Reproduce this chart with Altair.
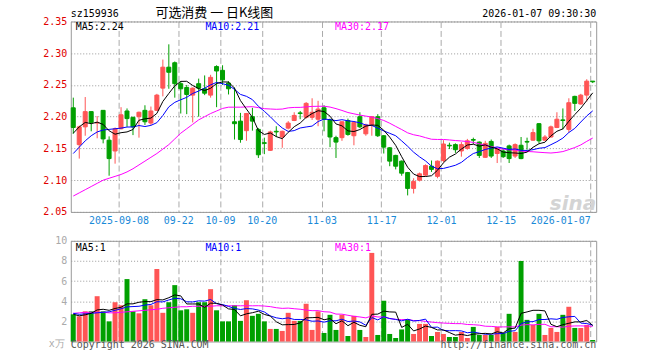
import altair as alt
import pandas as pd

# ---------------- data ----------------
tick_idx = [8, 18, 25, 32, 42, 52, 62, 72, 87]
tick_labels = ["2025-09-08", "09-22", "10-09", "10-20", "11-03", "11-17", "12-01", "12-15", "2026-01-07"]
price_ticks = [2.05, 2.10, 2.15, 2.20, 2.25, 2.30, 2.35]
vol_ticks = [2, 4, 6, 8, 10]

opens = [2.214, 2.156, 2.184, 2.208, 2.190, 2.210, 2.163, 2.146, 2.181, 2.209,
         2.199, 2.200, 2.210, 2.190, 2.210, 2.245, 2.278, 2.285, 2.252, 2.246,
         2.234, 2.252, 2.244, 2.234, 2.279, 2.273, 2.253, 2.192, 2.193, 2.178,
         2.200, 2.180, 2.159, 2.147, 2.177, 2.168, 2.182, 2.194, 2.206, 2.199,
         2.199, 2.196, 2.214, 2.195, 2.167, 2.167, 2.194, 2.170, 2.200, 2.173,
         2.187, 2.200, 2.170, 2.151, 2.139, 2.130, 2.112, 2.087, 2.100, 2.108,
         2.122, 2.106, 2.131, 2.155, 2.156, 2.146, 2.150, 2.164, 2.160, 2.136,
         2.161, 2.142, 2.146, 2.154, 2.138, 2.155, 2.161, 2.163, 2.189, 2.163,
         2.168, 2.183, 2.195, 2.180, 2.232, 2.220, 2.234, 2.256]
highs = [2.230, 2.186, 2.231, 2.208, 2.201, 2.210, 2.169, 2.183, 2.215, 2.213,
         2.200, 2.208, 2.218, 2.216, 2.236, 2.290, 2.314, 2.287, 2.256, 2.250,
         2.246, 2.260, 2.265, 2.266, 2.281, 2.281, 2.256, 2.246, 2.206, 2.206,
         2.214, 2.182, 2.167, 2.178, 2.185, 2.178, 2.193, 2.207, 2.209, 2.223,
         2.229, 2.225, 2.218, 2.197, 2.170, 2.193, 2.197, 2.193, 2.207, 2.189,
         2.201, 2.204, 2.171, 2.152, 2.140, 2.131, 2.113, 2.103, 2.112, 2.125,
         2.131, 2.131, 2.163, 2.159, 2.158, 2.160, 2.165, 2.167, 2.161, 2.162,
         2.164, 2.150, 2.150, 2.156, 2.158, 2.168, 2.167, 2.181, 2.190, 2.171,
         2.186, 2.207, 2.213, 2.229, 2.233, 2.236, 2.259, 2.256]
lows = [2.173, 2.134, 2.170, 2.177, 2.166, 2.158, 2.107, 2.126, 2.180, 2.184,
        2.171, 2.167, 2.187, 2.187, 2.209, 2.232, 2.244, 2.230, 2.205, 2.204,
        2.191, 2.200, 2.234, 2.230, 2.215, 2.250, 2.235, 2.164, 2.159, 2.162,
        2.178, 2.135, 2.141, 2.146, 2.168, 2.151, 2.180, 2.193, 2.196, 2.197,
        2.195, 2.185, 2.177, 2.152, 2.135, 2.162, 2.170, 2.155, 2.182, 2.170,
        2.170, 2.168, 2.142, 2.122, 2.117, 2.107, 2.076, 2.079, 2.098, 2.106,
        2.113, 2.103, 2.128, 2.149, 2.143, 2.137, 2.148, 2.157, 2.135, 2.135,
        2.135, 2.127, 2.135, 2.127, 2.135, 2.133, 2.148, 2.162, 2.158, 2.162,
        2.167, 2.182, 2.180, 2.175, 2.209, 2.219, 2.224, 2.253]
closes = [2.183, 2.184, 2.208, 2.191, 2.191, 2.165, 2.134, 2.181, 2.203, 2.197,
          2.184, 2.207, 2.192, 2.209, 2.234, 2.278, 2.270, 2.252, 2.244, 2.235,
          2.245, 2.245, 2.237, 2.262, 2.272, 2.258, 2.244, 2.189, 2.164, 2.205,
          2.193, 2.140, 2.158, 2.176, 2.176, 2.177, 2.190, 2.202, 2.205, 2.221,
          2.207, 2.212, 2.196, 2.168, 2.160, 2.192, 2.172, 2.191, 2.184, 2.187,
          2.200, 2.170, 2.152, 2.130, 2.122, 2.111, 2.087, 2.098, 2.110, 2.123,
          2.117, 2.130, 2.157, 2.154, 2.148, 2.156, 2.162, 2.163, 2.139, 2.158,
          2.138, 2.149, 2.137, 2.134, 2.156, 2.134, 2.160, 2.175, 2.162, 2.168,
          2.184, 2.196, 2.194, 2.222, 2.221, 2.234, 2.256, 2.255]
volumes = [2.7, 2.5, 3.0, 3.0, 4.5, 3.0, 2.0, 3.9, 3.6, 6.2,
           3.0, 2.8, 4.2, 3.6, 7.2, 2.85, 3.9, 5.6, 3.1, 3.2,
           2.85, 3.9, 3.9, 5.2, 3.1, 2.0, 2.0, 3.6, 2.05, 4.1,
           2.55, 2.75, 2.0, 1.25, 1.25, 1.05, 2.85, 2.05, 2.05, 3.75,
           1.15, 3.0, 0.85, 2.65, 1.15, 2.65, 0.55, 2.55, 1.15, 0.45,
           8.8, 0.65, 4.05, 0.75, 0.35, 1.2, 2.2, 0.75, 1.75, 1.75,
           0.55, 0.95, 0.75, 0.45, 0.45, 0.95, 0.35, 1.45, 0.65, 0.65,
           0.65, 1.45, 0.85, 2.75, 0.95, 8.0, 2.15, 1.65, 2.75, 0.65,
           1.35, 0.95, 2.65, 3.45, 1.35, 1.35, 1.65, 0.15]

# moving-average values before a full window exists
ma5_head = [2.174, 2.184, 2.191, 2.189]
ma10_head = [2.142, 2.152, 2.162, 2.170, 2.176, 2.179, 2.180, 2.181, 2.182]
ma30_head = [2.075, 2.080, 2.085, 2.090, 2.095, 2.100, 2.103, 2.106, 2.109, 2.113,
             2.118, 2.124, 2.130, 2.136, 2.142, 2.149, 2.156, 2.165, 2.174, 2.181,
             2.188, 2.195, 2.200, 2.205, 2.209, 2.213, 2.215, 2.215, 2.215]
vma5_head = [2.7, 2.55, 2.65, 2.8]
vma10_head = [2.8, 2.7, 2.75, 2.8, 2.85, 2.9, 2.95, 3.1, 3.25]
vma30_head = [2.8, 2.85, 2.9, 2.9, 2.9, 2.9, 2.85, 2.85, 2.9, 2.95,
              3.0, 3.05, 3.1, 3.15, 3.2, 3.3, 3.35, 3.4, 3.45, 3.45,
              3.5, 3.5, 3.5, 3.5, 3.55, 3.55, 3.55, 3.55, 3.55]

price_legend = ["MA5:2.24", "MA10:2.21", "MA30:2.17"]
vol_legend = ["MA5:1", "MA10:1", "MA30:1"]
code_text = "sz159936"
title_text = "可选消费 一 日K线图"
time_text = "2026-01-07 09:30:30"
copyright_text = "Copyright 2026 SINA.COM"
url_text = "http://finance.sina.com.cn"
unit_text = "x万"

# ---------------- table ----------------
n = len(closes)
df = pd.DataFrame({"i": list(range(n)), "open": opens, "high": highs,
                   "low": lows, "close": closes, "vol": volumes})


def ma(series, w, head):
    m = series.rolling(w).mean()
    m.iloc[:len(head)] = head
    return m


df["ma5"] = ma(df["close"], 5, ma5_head)
df["ma10"] = ma(df["close"], 10, ma10_head)
df["ma30"] = ma(df["close"], 30, ma30_head)
df["vma5"] = ma(df["vol"], 5, vma5_head)
df["vma10"] = ma(df["vol"], 10, vma10_head)
df["vma30"] = ma(df["vol"], 30, vma30_head)
df["dir"] = ["up" if c >= o else "down" for o, c in zip(opens, closes)]
df["blo"] = df[["open", "close"]].min(axis=1)
df["bhi"] = df[["open", "close"]].max(axis=1)
df["x0"] = df["i"] + 0.08
df["x1"] = df["i"] + 0.75
df["xc"] = df["i"] + 0.42
df["v0"] = df["i"] + 0.0
df["v1"] = df["i"] + 0.83

RED = "#ff5555"
GREEN = "#00a000"
FONT = "DejaVu Sans Mono"
W = 527

xscale = alt.Scale(domain=[0, 88], nice=False, zero=False)
color = alt.Color("dir:N", scale=alt.Scale(domain=["up", "down"], range=[RED, GREEN]), legend=None)

label_expr = ""
for k, t in zip(tick_idx, tick_labels):
    label_expr += f"datum.value == {k} ? '{t}' : "
label_expr += "''"

x_axis_price = alt.Axis(values=tick_idx, labelExpr=label_expr, grid=True, gridDash=[6, 3],
                        gridColor="#aaaaaa", domain=False, ticks=False, title=None,
                        labelColor="#1a8ad8", labelFont=FONT, labelFontSize=10,
                        labelPadding=4, labelOverlap=False, labelFlush=False,
                        labelAlign={"condition": {"test": "datum.value == 87", "value": "right"},
                                    "value": "center"})
x_axis_vol = alt.Axis(values=tick_idx, grid=True, gridDash=[6, 3], gridColor="#aaaaaa",
                      domain=False, ticks=False, labels=False, title=None)

yscale_p = alt.Scale(domain=[2.05, 2.35], nice=False, zero=False)
y_axis_price = alt.Axis(values=price_ticks, format=".2f", grid=True, gridDash=[1, 2],
                        gridColor="#999999", domain=False, ticks=False, title=None,
                        labelColor="#e00000", labelFont=FONT, labelFontSize=10, labelPadding=4)
yscale_v = alt.Scale(domain=[0, 10], nice=False, zero=True)
y_axis_vol = alt.Axis(values=vol_ticks, grid=True, gridDash=[1, 2], gridColor="#999999",
                      domain=False, ticks=False, title=None, labelColor="#aaaaaa",
                      labelFont=FONT, labelFontSize=10, labelPadding=4)

base = alt.Chart(df)


def px(field):
    return alt.X(f"{field}:Q", scale=xscale, axis=x_axis_price)


def py(field):
    return alt.Y(f"{field}:Q", scale=yscale_p, axis=y_axis_price)


def vx(field):
    return alt.X(f"{field}:Q", scale=xscale, axis=x_axis_vol)


def vy(field):
    return alt.Y(f"{field}:Q", scale=yscale_v, axis=y_axis_vol)


wicks = base.mark_rule(strokeWidth=1).encode(
    x=px("xc"), y=py("low"), y2="high:Q", color=color)
bodies = base.mark_rect(strokeWidth=1).encode(
    x=px("x0"), x2="x1:Q", y=py("blo"), y2="bhi:Q", color=color, stroke=color)


def pline(col, c):
    return base.mark_line(strokeWidth=1, color=c).encode(x=px("xc"), y=py(col))


def vline(col, c):
    return base.mark_line(strokeWidth=1, color=c).encode(x=vx("xc"), y=vy(col))


def text(t, x, y, c="#000000", size=10, align="left", font=FONT, **kw):
    return alt.Chart(pd.DataFrame({"t": [t]})).mark_text(
        align=align, baseline="middle", font=font, fontSize=size, color=c, **kw
    ).encode(x=alt.value(x), y=alt.value(y), text="t:N")


# invisible page frame: fixes the page to 660x360 with the plot at (70, 20)
page = alt.Chart(pd.DataFrame({"t": [0]})).mark_rect(fill="#ffffff", opacity=0, strokeWidth=0).encode(
    x=alt.value(-70), x2=alt.value(590), y=alt.value(-20), y2=alt.value(340))

ma_colors = ["#000000", "#0000ff", "#ff00ff"]
legend_x = [5, 135, 265]

price_layers = [
    wicks, bodies,
    pline("ma30", "#ff00ff"), pline("ma10", "#0000ff"), pline("ma5", "#000000"),
    page,
    text("sina", 527, 183, c="#d4d4d4", size=20, align="right", font="DejaVu Sans",
         fontStyle="italic", fontWeight="bold"),
    text(code_text, 0, -7),
    text(title_text, 144, -8, size=13, align="center", font="Noto Sans CJK SC"),
    text(time_text, 527, -7, align="right"),
]
for t, c, x in zip(price_legend, ma_colors, legend_x):
    price_layers.append(text(t, x, 6, c=c))

price = alt.layer(*price_layers).properties(width=W, height=191)

vbars = base.mark_rect().encode(
    x=vx("v0"), x2="v1:Q", y=vy("vol"), y2=alt.datum(0), color=color)
vol_layers = [
    vbars,
    vline("vma30", "#ff00ff"), vline("vma10", "#0000ff"), vline("vma5", "#000000"),
    text(unit_text, -6, 104, c="#aaaaaa", align="right"),
    text(copyright_text, 0, 105, c="#555555"),
    text(url_text, 527, 105, c="#555555", align="right"),
]
for t, c, x in zip(vol_legend, ma_colors, legend_x):
    vol_layers.append(text(t, x, 7, c=c))

volume = alt.layer(*vol_layers).properties(width=W, height=101)

chart = alt.vconcat(price, volume, spacing=29, bounds="flush").properties(
    padding=0,
    background="#ffffff",
).configure_view(stroke="#999999", strokeWidth=1)

chart.save("out.html", embed_options={"renderer": "svg", "actions": False})
